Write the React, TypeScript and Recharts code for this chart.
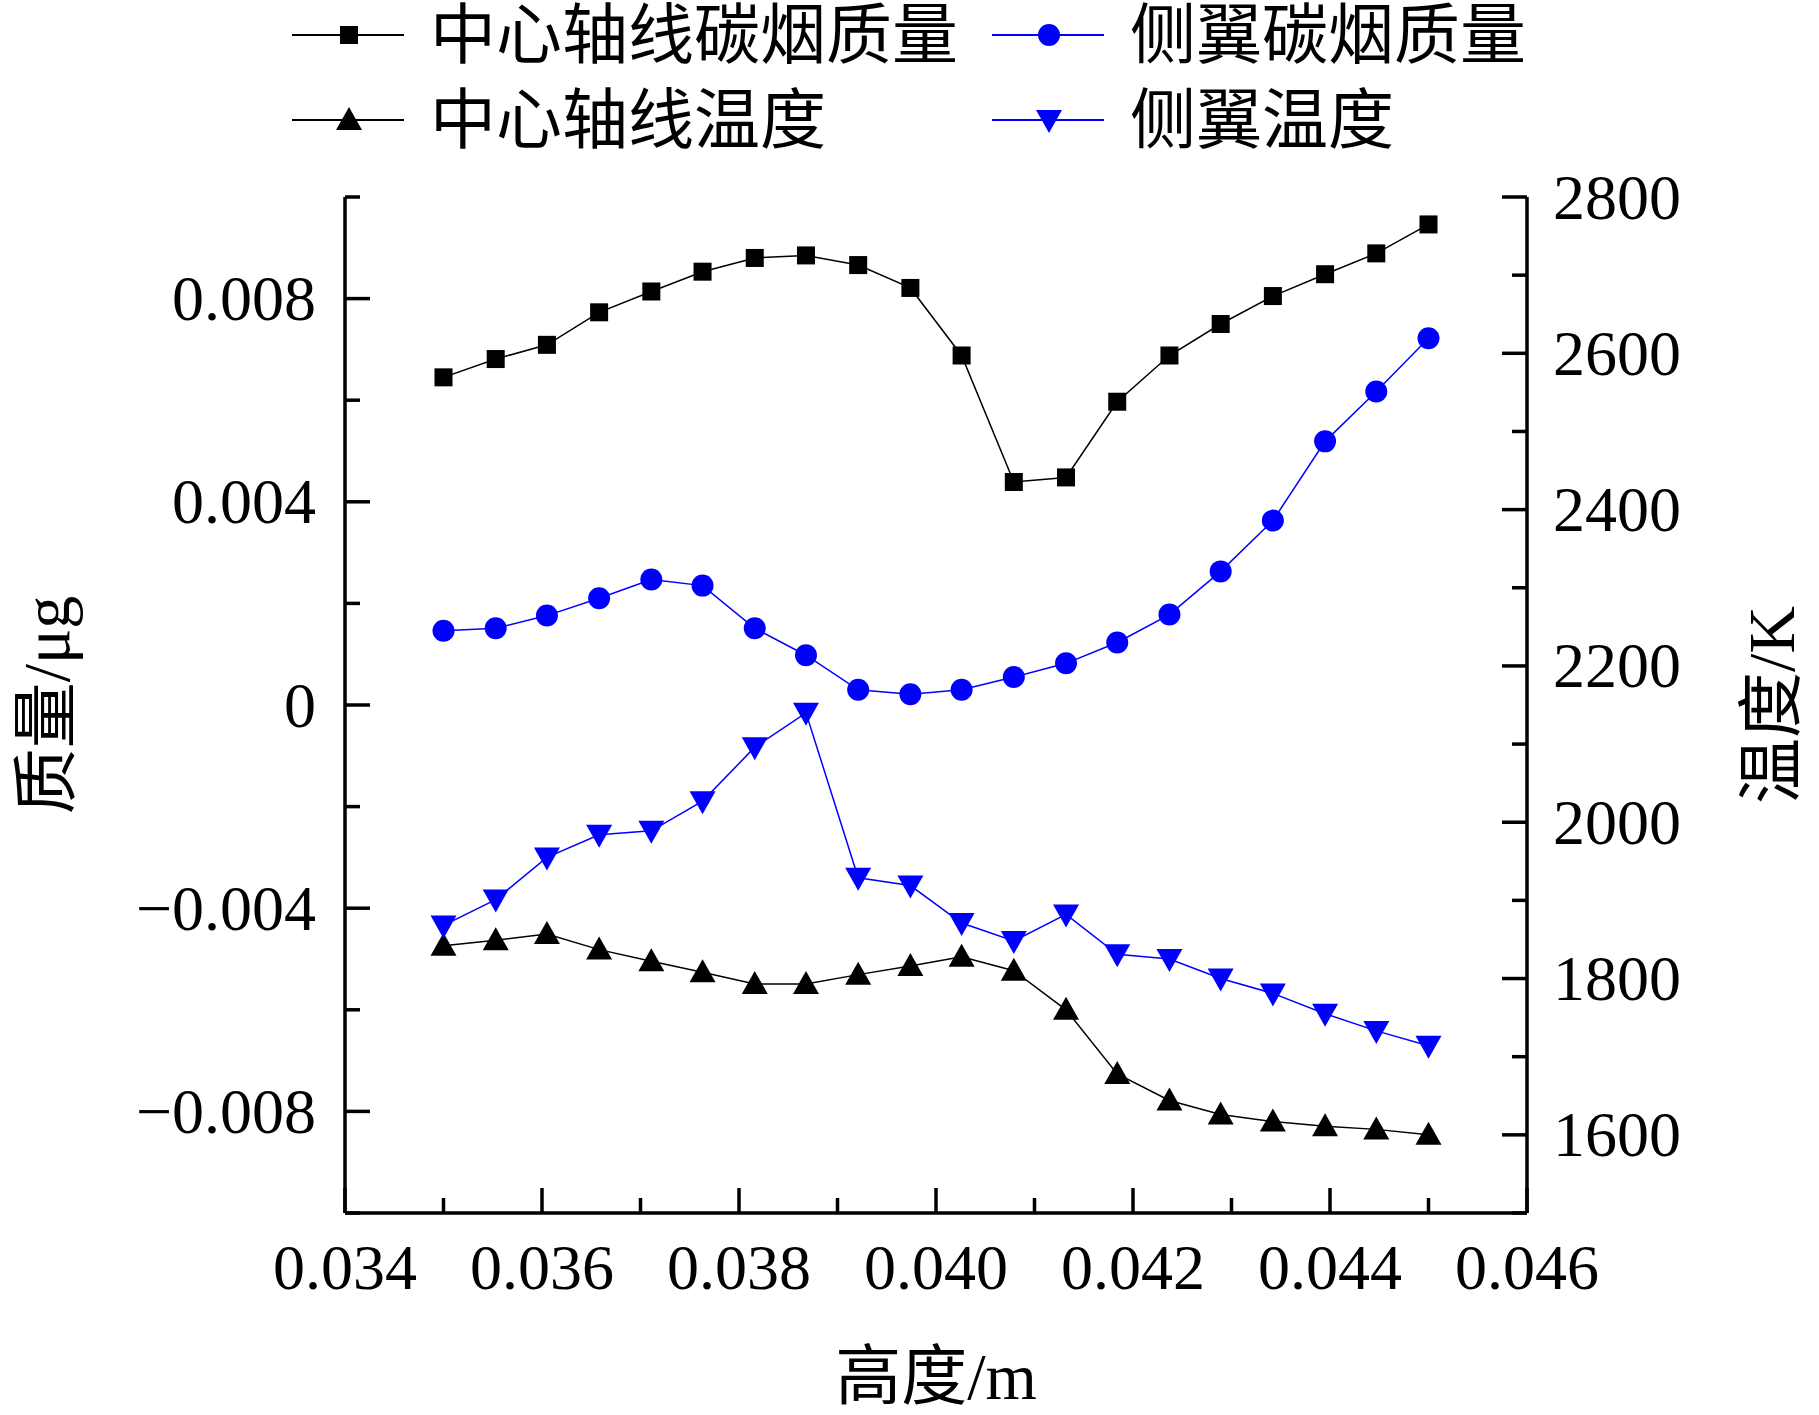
import React from 'react'
import { LineChart, Line, XAxis, YAxis, Legend, Label } from 'recharts'

// height along the flame (m)
const heights = [
  0.035, 0.03553, 0.03605, 0.03658, 0.03711, 0.03763, 0.03816, 0.03868, 0.03921, 0.03974,
  0.04026, 0.04079, 0.04132, 0.04184, 0.04237, 0.04289, 0.04342, 0.04395, 0.04447, 0.045,
]

// soot mass (μg)
const centerSoot = [
  0.00645, 0.00681, 0.00709, 0.00773, 0.00814, 0.00853, 0.0088, 0.00885, 0.00866, 0.00821,
  0.00688, 0.00439, 0.00448, 0.00597, 0.00688, 0.0075, 0.00805, 0.00848, 0.00889, 0.00946,
]
const wingSoot = [
  0.00146, 0.00151, 0.00176, 0.0021, 0.00247, 0.00235, 0.00151, 0.00098, 0.0003, 0.00021,
  0.0003, 0.00055, 0.00082, 0.00123, 0.00178, 0.00263, 0.00363, 0.00519, 0.00617, 0.00722,
]

// temperature (K)
const centerTemp = [
  1842, 1849, 1857, 1837, 1822, 1808, 1793, 1793, 1805, 1816,
  1828, 1810, 1760, 1678, 1644, 1626, 1617, 1611, 1607, 1600,
]
const wingTemp = [
  1868, 1901, 1955, 1984, 1989, 2027, 2096, 2140, 1929, 1919,
  1871, 1848, 1882, 1831, 1825, 1800, 1781, 1755, 1733, 1714,
]

const xTicks = [0.034, 0.035, 0.036, 0.037, 0.038, 0.039, 0.04, 0.041, 0.042, 0.043, 0.044, 0.045, 0.046]
const xMajor = [0.034, 0.036, 0.038, 0.04, 0.042, 0.044, 0.046]
const massTicks = [-0.01, -0.008, -0.006, -0.004, -0.002, 0, 0.002, 0.004, 0.006, 0.008, 0.01]
const massMajor = [-0.008, -0.004, 0, 0.004, 0.008]
const tempTicks = [1500, 1600, 1700, 1800, 1900, 2000, 2100, 2200, 2300, 2400, 2500, 2600, 2700, 2800]
const tempMajor = [1600, 1800, 2000, 2200, 2400, 2600, 2800]

const seriesNames = ['中心轴线碳烟质量', '侧翼碳烟质量', '中心轴线温度', '侧翼温度']

const BLUE = '#0000ff'
const FONT = "'Liberation Serif', 'Times New Roman', 'Noto Sans CJK SC', serif"
const TICK_FONT = 64
const MAJOR = 25
const MINOR = 15

const rows = heights.map((h, i) => ({
  h,
  centerSoot: centerSoot[i],
  wingSoot: wingSoot[i],
  centerTemp: centerTemp[i],
  wingTemp: wingTemp[i],
}))

const isIn = (v: number, list: number[]) => list.some(m => Math.abs(m - v) < 1e-9)

const fmtMass = (v: number) => {
  if (Math.abs(v) < 1e-12) return '0'
  return (v < 0 ? '\u2212' : '') + Math.abs(v).toFixed(3)
}

function Marker({ kind, cx, cy, color }: { kind: string; cx: number; cy: number; color: string }) {
  if (kind === 'square') return <rect x={cx - 9} y={cy - 9} width={18} height={18} fill={color} />
  if (kind === 'circle') return <circle cx={cx} cy={cy} r={11} fill={color} />
  if (kind === 'up')
    return <polygon points={`${cx},${cy - 13} ${cx - 13},${cy + 10} ${cx + 13},${cy + 10}`} fill={color} />
  return <polygon points={`${cx},${cy + 13} ${cx - 13},${cy - 10} ${cx + 13},${cy - 10}`} fill={color} />
}

const dotOf = (kind: string, color: string) => (props: any) => (
  <Marker key={`${kind}-${props.index}`} kind={kind} cx={props.cx} cy={props.cy} color={color} />
)

function BottomTick(props: any) {
  const { x, y, payload } = props
  const major = isIn(payload.value, xMajor)
  return (
    <g>
      <line x1={x} x2={x} y1={y} y2={y - (major ? MAJOR : MINOR)} stroke="#000" strokeWidth={3.5} />
      {major && (
        <text x={x} y={y + 54} textAnchor="middle" dominantBaseline="central" fontFamily={FONT} fontSize={TICK_FONT} fill="#000">
          {payload.value.toFixed(3)}
        </text>
      )}
    </g>
  )
}

function LeftTick(props: any) {
  const { x, y, payload } = props
  const major = isIn(payload.value, massMajor)
  return (
    <g>
      <line x1={x} x2={x + (major ? MAJOR : MINOR)} y1={y} y2={y} stroke="#000" strokeWidth={3.5} />
      {major && (
        <text x={x - 29} y={y} textAnchor="end" dominantBaseline="central" fontFamily={FONT} fontSize={TICK_FONT} fill="#000">
          {fmtMass(payload.value)}
        </text>
      )}
    </g>
  )
}

function RightTick(props: any) {
  const { x, y, payload } = props
  const major = isIn(payload.value, tempMajor)
  return (
    <g>
      <line x1={x} x2={x - (major ? MAJOR : MINOR)} y1={y} y2={y} stroke="#000" strokeWidth={3.5} />
      {major && (
        <text x={x + 26} y={y} textAnchor="start" dominantBaseline="central" fontFamily={FONT} fontSize={TICK_FONT} fill="#000">
          {payload.value}
        </text>
      )}
    </g>
  )
}

const axisTitle = (text: string, dx: number, dy: number, rotate: boolean) => (props: any) => {
  const vb = props.viewBox
  const cx = vb.x + dx
  const cy = rotate ? vb.y + vb.height / 2 : vb.y + dy
  return (
    <text
      x={cx}
      y={cy}
      textAnchor="middle"
      dominantBaseline="central"
      fontFamily={FONT}
      fontSize={66}
      fill="#000"
      transform={rotate ? `rotate(-90 ${cx} ${cy})` : undefined}
    >
      {text}
    </text>
  )
}

const legendItems = [
  { name: seriesNames[0], kind: 'square', color: '#000', x: 292, y: 35 },
  { name: seriesNames[1], kind: 'circle', color: BLUE, x: 992, y: 35 },
  { name: seriesNames[2], kind: 'up', color: '#000', x: 292, y: 120 },
  { name: seriesNames[3], kind: 'down', color: BLUE, x: 992, y: 120 },
]

function LegendBox() {
  return (
    <svg width={1819} height={170}>
      {legendItems.map(it => (
        <g key={it.name}>
          <line x1={it.x} x2={it.x + 112} y1={it.y} y2={it.y} stroke={it.color} strokeWidth={2} />
          <Marker kind={it.kind} cx={it.x + 57} cy={it.y} color={it.color} />
          <text x={it.x + 138} y={it.y} dominantBaseline="central" fontFamily={FONT} fontSize={66} fill="#000">
            {it.name}
          </text>
        </g>
      ))}
    </svg>
  )
}

export default function App() {
  return (
    <div style={{ position: 'absolute', left: 0, top: 0, width: 1819, height: 1415, background: '#fff' }}>
      <LineChart width={1819} height={1415} data={rows} margin={{ top: 197, right: 0, bottom: 0, left: 0 }}>
        <XAxis
          dataKey="h"
          type="number"
          domain={[0.034, 0.046]}
          ticks={xTicks}
          interval={0}
          height={202}
          tickSize={0}
          tickMargin={0}
          tickLine={false}
          tick={<BottomTick />}
          axisLine={{ stroke: '#000', strokeWidth: 3.5 }}
        >
          <Label content={axisTitle('高度/m', 591, 163, false)} />
        </XAxis>
        <YAxis
          yAxisId="mass"
          orientation="left"
          type="number"
          domain={[-0.01, 0.01]}
          ticks={massTicks}
          interval={0}
          width={345}
          tickSize={0}
          tickMargin={0}
          tickLine={false}
          tick={<LeftTick />}
          axisLine={{ stroke: '#000', strokeWidth: 3.5 }}
        >
          <Label content={axisTitle('质量/μg', 46, 0, true)} />
        </YAxis>
        <YAxis
          yAxisId="temp"
          orientation="right"
          type="number"
          domain={[1500, 2800]}
          ticks={tempTicks}
          interval={0}
          width={292}
          tickSize={0}
          tickMargin={0}
          tickLine={false}
          tick={<RightTick />}
          axisLine={{ stroke: '#000', strokeWidth: 3.5 }}
        >
          <Label content={axisTitle('温度/K', 244, 0, true)} />
        </YAxis>
        <Legend
          layout="horizontal"
          verticalAlign="middle"
          align="center"
          wrapperStyle={{ top: 0, left: 0, width: 1819, height: 170 }}
          content={() => <LegendBox />}
        />
        <Line yAxisId="mass" type="linear" dataKey="centerSoot" name={seriesNames[0]} stroke="#000" strokeWidth={1.5} dot={dotOf('square', '#000')} activeDot={false} isAnimationActive={false} />
        <Line yAxisId="mass" type="linear" dataKey="wingSoot" name={seriesNames[1]} stroke={BLUE} strokeWidth={1.5} dot={dotOf('circle', BLUE)} activeDot={false} isAnimationActive={false} />
        <Line yAxisId="temp" type="linear" dataKey="centerTemp" name={seriesNames[2]} stroke="#000" strokeWidth={1.5} dot={dotOf('up', '#000')} activeDot={false} isAnimationActive={false} />
        <Line yAxisId="temp" type="linear" dataKey="wingTemp" name={seriesNames[3]} stroke={BLUE} strokeWidth={1.5} dot={dotOf('down', BLUE)} activeDot={false} isAnimationActive={false} />
      </LineChart>
    </div>
  )
}
